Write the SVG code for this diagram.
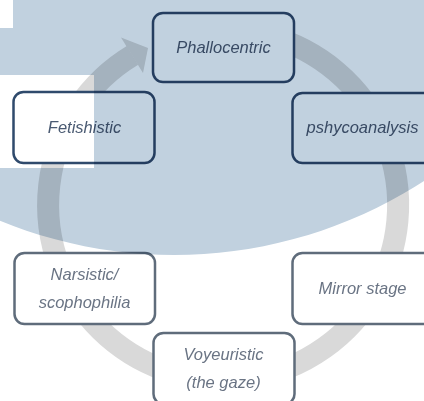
<svg xmlns="http://www.w3.org/2000/svg" width="424" height="401" viewBox="0 0 424 401">
<style>
.box{fill:#ffffff;stroke-width:2.5}
.top{stroke:#2f4a6c}
.bot{stroke:#5f6c7b}
.t{font-family:"Liberation Sans",Arial,sans-serif;font-style:italic;font-size:16.5px;text-anchor:middle}
.tt{fill:#4a5a72}
.tb{fill:#6a7484}
</style>
<rect width="424" height="401" fill="#ffffff"/>
<g id="connectors">
<path d="M 270 36.4 A 175 175 0 1 1 132.5 55.3" fill="none" stroke="#d9d9d9" stroke-width="22"/>
<polygon points="121,37.5 148,48 143,73" fill="#d9d9d9"/>
</g>
<g id="phallocentric"><rect class="box top" x="153" y="13" width="141" height="69" rx="10"/><text class="t tt" x="223.5" y="53">Phallocentric</text></g>
<g id="fetishistic"><rect class="box top" x="13.5" y="92" width="141" height="71" rx="10"/><text class="t tt" x="84.5" y="133">Fetishistic</text></g>
<g id="pshycoanalysis"><rect class="box top" x="292.5" y="93" width="141" height="70" rx="10"/><text class="t tt" x="362.5" y="133">pshycoanalysis</text></g>
<g id="narsistic"><rect class="box bot" x="14.5" y="253" width="140.5" height="71" rx="10"/><text class="t tb" x="84.5" y="280">Narsistic/</text><text class="t tb" x="84.5" y="308">scophophilia</text></g>
<g id="voyeuristic"><rect class="box bot" x="153.5" y="333" width="141" height="71" rx="10"/><text class="t tb" x="223.5" y="360">Voyeuristic</text><text class="t tb" x="223.5" y="388">(the gaze)</text></g>
<g id="mirror"><rect class="box bot" x="292.5" y="253" width="141" height="71" rx="10"/><text class="t tb" x="362.5" y="294">Mirror stage</text></g>
<path d="M 174 -663 A 459 459 0 1 1 173.9 -663 Z M 0 0 H 13 V 28 H 0 Z M 0 75 H 94 V 168 H 0 Z" fill="#c1d1df" fill-rule="evenodd" style="mix-blend-mode:multiply"/>
</svg>
